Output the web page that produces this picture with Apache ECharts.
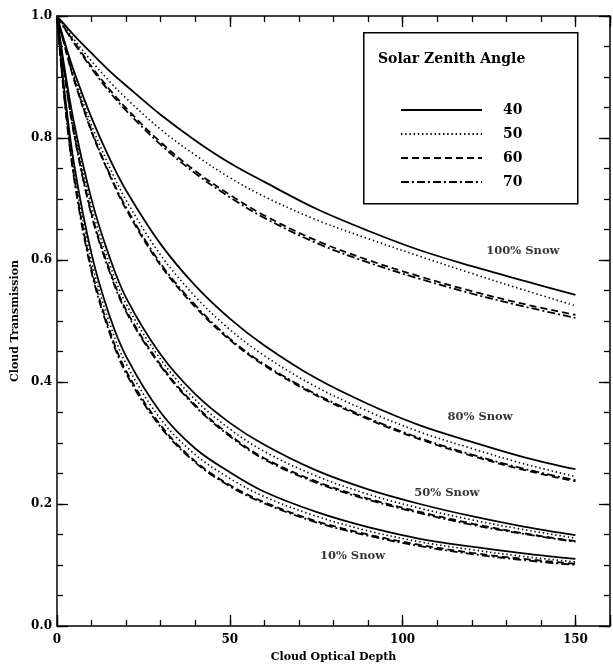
<!DOCTYPE html>
<html>
<head>
<meta charset="utf-8">
<script src="https://cdn.jsdelivr.net/npm/echarts@6/dist/echarts.min.js"></script>
<style>
html,body{margin:0;padding:0;background:#fff;}
#chart{width:613px;height:669px;}
</style>
</head>
<body>
<div id="chart"></div>
<script>
// Cloud optical depth sample points
var tau = [0, 2, 5, 10, 15, 20, 30, 40, 50, 60, 75, 90, 105, 120, 135, 150];

// Solar zenith angles (legend)
var angles = ['40', '50', '60', '70'];

// 100% snow
var snow100_40 = [1, 0.987, 0.968, 0.939, 0.911, 0.886, 0.838, 0.796, 0.759, 0.728, 0.684, 0.648, 0.616, 0.590, 0.566, 0.543];
var snow100_50 = [1, 0.984, 0.961, 0.926, 0.894, 0.865, 0.814, 0.772, 0.735, 0.704, 0.666, 0.635, 0.606, 0.578, 0.551, 0.525];
var snow100_60 = [1, 0.982, 0.957, 0.917, 0.881, 0.849, 0.793, 0.746, 0.707, 0.673, 0.632, 0.600, 0.573, 0.549, 0.528, 0.510];
var snow100_70 = [1, 0.981, 0.955, 0.914, 0.877, 0.845, 0.789, 0.742, 0.703, 0.669, 0.628, 0.596, 0.569, 0.545, 0.524, 0.505];

// 80% snow
var snow80_40 = [1, 0.961, 0.908, 0.833, 0.769, 0.714, 0.626, 0.558, 0.504, 0.460, 0.406, 0.364, 0.329, 0.302, 0.277, 0.257];
var snow80_50 = [1, 0.958, 0.901, 0.821, 0.755, 0.698, 0.608, 0.540, 0.486, 0.443, 0.392, 0.352, 0.318, 0.291, 0.266, 0.245];
var snow80_60 = [1, 0.955, 0.894, 0.810, 0.742, 0.683, 0.591, 0.523, 0.469, 0.427, 0.378, 0.339, 0.306, 0.279, 0.256, 0.237];
var snow80_70 = [1, 0.956, 0.896, 0.812, 0.744, 0.686, 0.594, 0.526, 0.471, 0.429, 0.380, 0.341, 0.308, 0.281, 0.258, 0.239];

// 50% snow
var snow50_40 = [1, 0.921, 0.823, 0.699, 0.608, 0.538, 0.445, 0.380, 0.333, 0.297, 0.255, 0.224, 0.200, 0.180, 0.163, 0.149];
var snow50_50 = [1, 0.916, 0.814, 0.687, 0.597, 0.528, 0.437, 0.371, 0.323, 0.286, 0.246, 0.216, 0.193, 0.174, 0.158, 0.144];
var snow50_60 = [1, 0.912, 0.806, 0.676, 0.587, 0.518, 0.428, 0.362, 0.313, 0.275, 0.237, 0.209, 0.187, 0.168, 0.152, 0.139];
var snow50_70 = [1, 0.911, 0.804, 0.673, 0.584, 0.515, 0.426, 0.360, 0.311, 0.273, 0.235, 0.207, 0.185, 0.166, 0.151, 0.138];

// 10% snow
var snow10_40 = [1, 0.885, 0.755, 0.610, 0.512, 0.442, 0.350, 0.291, 0.252, 0.220, 0.187, 0.162, 0.143, 0.130, 0.119, 0.110];
var snow10_50 = [1, 0.880, 0.745, 0.598, 0.500, 0.430, 0.339, 0.281, 0.242, 0.212, 0.180, 0.156, 0.138, 0.125, 0.114, 0.105];
var snow10_60 = [1, 0.874, 0.735, 0.585, 0.488, 0.418, 0.329, 0.270, 0.231, 0.203, 0.172, 0.150, 0.133, 0.120, 0.110, 0.102];
var snow10_70 = [1, 0.872, 0.731, 0.580, 0.484, 0.414, 0.326, 0.268, 0.229, 0.201, 0.170, 0.148, 0.131, 0.118, 0.108, 0.100];

// Curve-group annotations
var groupLabels = ['100% Snow', '80% Snow', '50% Snow', '10% Snow'];
var groupLabelTau = [134.8, 122.4, 112.8, 85.5];
var groupLabelT = [0.614, 0.342, 0.218, 0.115];

// Axis tick labels
var xTickLabels = [0, 50, 100, 150];
var yTickLabels = ['0.0', '0.2', '0.4', '0.6', '0.8', '1.0'];

var FONT = '"DejaVu Serif", "Liberation Serif", serif';

var groups = [
  [snow100_40, snow100_50, snow100_60, snow100_70],
  [snow80_40, snow80_50, snow80_60, snow80_70],
  [snow50_40, snow50_50, snow50_60, snow50_70],
  [snow10_40, snow10_50, snow10_60, snow10_70]
];

var styles = [
  {type: 'solid', width: 1.8},
  {type: [1.4, 2.8], width: 1.6},
  {type: [7, 4], width: 1.8},
  {type: [8, 3, 2, 3], width: 1.8}
];

var series = [];
groups.forEach(function (g) {
  g.forEach(function (vals, ai) {
    series.push({
      name: angles[ai],
      type: 'line',
      xAxisIndex: 0,
      yAxisIndex: 0,
      symbol: 'none',
      showSymbol: false,
      smooth: 0.35,
      silent: true,
      lineStyle: {color: '#000', width: styles[ai].width, type: styles[ai].type},
      itemStyle: {color: '#000'},
      data: tau.map(function (t, i) { return [t, vals[i]]; })
    });
  });
});

series.push({
  name: 'labels',
  type: 'scatter',
  xAxisIndex: 0,
  yAxisIndex: 0,
  symbolSize: 0,
  silent: true,
  label: {
    show: true,
    position: 'inside',
    formatter: function (p) { return p.data[2]; },
    color: '#000',
    textBorderWidth: 0,
    fontFamily: FONT,
    fontWeight: 'bold',
    fontSize: 11.5
  },
  data: groupLabels.map(function (s, i) { return [groupLabelTau[i], groupLabelT[i], s]; })
});

function isMultiple(v, step) {
  var r = v / step;
  return Math.abs(r - Math.round(r)) < 1e-6;
}

function xAxisDef(pos, interval, len, showLabel, showLine) {
  return {
    type: 'value', gridIndex: 0, position: pos, min: 0, max: 160, interval: interval,
    axisLine: {show: showLine, onZero: false, lineStyle: {color: '#000', width: 1.5}},
    axisTick: {show: true, inside: true, length: len, lineStyle: {color: '#000', width: 1.3}},
    axisLabel: {
      show: showLabel, margin: 8, color: '#000', fontFamily: FONT, fontWeight: 'bold', fontSize: 12,
      formatter: function (v) {
        for (var i = 0; i < xTickLabels.length; i++) if (Math.abs(v - xTickLabels[i]) < 1e-6) return String(xTickLabels[i]);
        return '';
      }
    },
    splitLine: {show: false}
  };
}

function yAxisDef(pos, interval, len, showLabel, showLine) {
  return {
    type: 'value', gridIndex: 0, position: pos, min: 0, max: 1, interval: interval,
    axisLine: {show: showLine, onZero: false, lineStyle: {color: '#000', width: 1.5}},
    axisTick: {show: true, inside: true, length: len, lineStyle: {color: '#000', width: 1.3}},
    axisLabel: {
      show: showLabel, margin: 5, color: '#000', fontFamily: FONT, fontWeight: 'bold', fontSize: 12,
      formatter: function (v) {
        if (!isMultiple(v, 0.2)) return '';
        var idx = Math.round(v / 0.2);
        return yTickLabels[idx] || '';
      }
    },
    splitLine: {show: false}
  };
}

var xAxes = [
  xAxisDef('bottom', 10, 6, true, true),
  xAxisDef('bottom', 50, 11, false, false),
  xAxisDef('top', 10, 6, false, true),
  xAxisDef('top', 50, 11, false, false)
];
xAxes[0].name = 'Cloud Optical Depth';
xAxes[0].nameLocation = 'middle';
xAxes[0].nameGap = 26;
xAxes[0].nameTextStyle = {color: '#000', fontFamily: FONT, fontWeight: 'bold', fontSize: 11};

var yAxes = [
  yAxisDef('left', 0.05, 6, true, true),
  yAxisDef('left', 0.2, 11, false, false),
  yAxisDef('right', 0.05, 6, false, true),
  yAxisDef('right', 0.2, 11, false, false)
];
yAxes[0].name = 'Cloud Transmission';
yAxes[0].nameLocation = 'middle';
yAxes[0].nameGap = 35;
yAxes[0].nameTextStyle = {color: '#000', fontFamily: FONT, fontWeight: 'bold', fontSize: 11};

var chart = echarts.init(document.getElementById('chart'), null, {renderer: 'canvas'});
chart.setOption({
  backgroundColor: '#fff',
  animation: false,
  grid: {left: 57, right: 1, top: 16, bottom: 43, containLabel: false},
  title: {
    text: 'Solar Zenith Angle',
    left: 373, top: 47,
    textStyle: {color: '#000', fontFamily: FONT, fontWeight: 'bold', fontSize: 14}
  },
  legend: {
    data: angles.map(function (a) { return {name: a, itemStyle: {opacity: 0}}; }),
    orient: 'vertical',
    left: 395, top: 98,
    itemWidth: 81, itemHeight: 14, itemGap: 10,
    selectedMode: false,
    itemStyle: {opacity: 0},
    lineStyle: {width: 2},
    textStyle: {color: '#000', fontFamily: FONT, fontWeight: 'bold', fontSize: 14, padding: [0, 0, 0, 16]}
  },
  graphic: [{
    type: 'rect', left: 363, top: 32, z: -1,
    shape: {width: 214, height: 171},
    style: {fill: '#fff', stroke: '#000', lineWidth: 1.5}
  }],
  xAxis: xAxes,
  yAxis: yAxes,
  series: series
});
</script>
</body>
</html>
